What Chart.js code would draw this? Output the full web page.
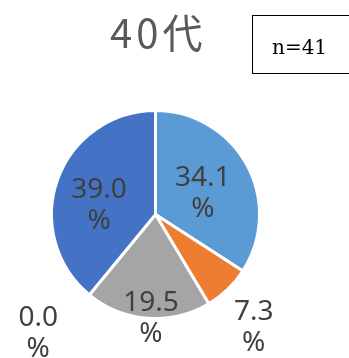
<!DOCTYPE html>
<html>
<head>
<meta charset="utf-8">
<script src="https://cdn.jsdelivr.net/npm/chart.js@4"></script>
<style>
  html, body { margin: 0; padding: 0; background: #fff; }
  #wrap { position: relative; width: 349px; height: 358px; overflow: hidden; }
</style>
</head>
<body>
<div id="wrap"><canvas id="myChart" width="349" height="358"></canvas></div>
<script>
const titulo = '40代';
const amostra = 'n=41';
const categorias = ['回答1', '回答2', '回答3', '回答4', '回答5'];
const valores = [34.1, 7.3, 19.5, 0.0, 39.0];
const cores = ['#5B9BD5', '#ED7D31', '#A5A5A5', '#FFC000', '#4472C4'];

// posicao dos rotulos: fator do raio e angulo (graus a partir do topo)
const rotuloPos = [
    { f: 0.50, a: 65.6 },
    { f: 1.44, a: 139 },
    { f: 1.00, a: 182.5 },
    { f: 1.60, a: 224.8 },
    { f: 0.55, a: 279.5 }
];

const extras = {
    id: 'extras',
    afterDraw(chart) {
        const c = chart.ctx;
        const meta = chart.getDatasetMeta(0);
        c.save();

        // titulo
        c.fillStyle = '#595959';
        c.font = '40px "Noto Sans CJK JP"';
        c.letterSpacing = '4px';
        c.textAlign = 'left';
        c.textBaseline = 'alphabetic';
        c.fillText(titulo, 110, 48);
        c.letterSpacing = '0px';

        // caixa n=41
        c.strokeStyle = '#000';
        c.lineWidth = 1;
        c.strokeRect(252.5, 15.5, 110, 58);
        c.fillStyle = '#000';
        c.font = '20px "DejaVu Serif"';
        c.fillText(amostra, 272, 54);

        // rotulos
        c.fillStyle = '#404040';
        c.font = '28px "Noto Sans"';
        c.textAlign = 'center';
        c.textBaseline = 'middle';
        meta.data.forEach((arc, i) => {
            const p = rotuloPos[i];
            const r = arc.outerRadius * p.f;
            const ang = p.a * Math.PI / 180;
            const x = arc.x + Math.sin(ang) * r;
            const y = arc.y - Math.cos(ang) * r;
            c.fillText(valores[i].toFixed(1), x, y - 15);
            c.fillText('%', x, y + 16);
        });
        c.restore();
    }
};

const ctx = document.getElementById('myChart');

new Chart(ctx, {
    type: 'pie',
    data: {
        labels: categorias,
        datasets: [
            {
                data: valores,
                backgroundColor: cores,
                borderColor: '#fff',
                borderWidth: 3,
            },
        ]
    },
    options: {
        responsive: false,
        animation: false,
        layout: {
            padding: { left: 50, right: 88, top: 109, bottom: 38 }
        },
        plugins: {
            legend: { display: false },
            tooltip: { enabled: false }
        }
    },
    plugins: [extras]
});
</script>
</body>
</html>
